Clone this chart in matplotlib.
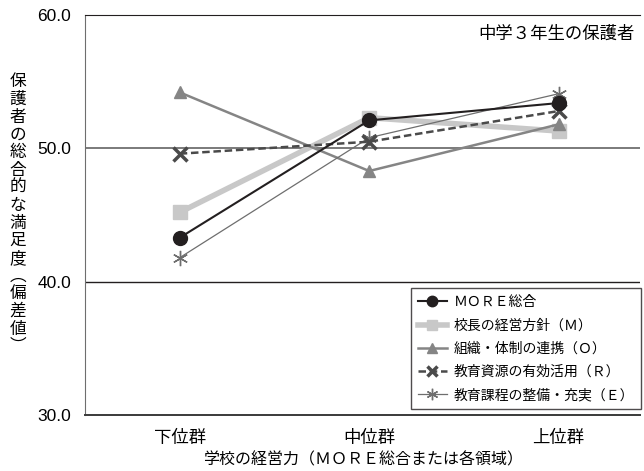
import matplotlib
matplotlib.use("Agg")
import matplotlib.pyplot as plt

plt.rcParams['font.family'] = ['Noto Sans CJK JP', 'DejaVu Sans']

groups = ['下位群', '中位群', '上位群']
more_total = [43.3, 52.1, 53.4]
principal_m = [45.2, 52.3, 51.3]
organization_o = [54.2, 48.3, 51.8]
resources_r = [49.6, 50.5, 52.8]
curriculum_e = [41.8, 50.8, 54.1]

y_ticks = [30, 40, 50, 60]

fig = plt.figure(figsize=(6.44, 4.71), dpi=100)
ax = fig.add_axes([0.132, 0.119, 0.862, 0.849])

x = range(len(groups))

ax.plot(x, principal_m, color='#c8c8c8', lw=4.0, marker='s', ms=10,
        label='校長の経営方針（Ｍ）', zorder=3)
ax.plot(x, organization_o, color='#858585', lw=1.8, marker='^', ms=9,
        label='組織・体制の連携（Ｏ）', zorder=4)
ax.plot(x, curriculum_e, color='#6e6e6e', lw=0.9, marker=(6, 2, 0), ms=11,
        mew=1.0, label='教育課程の整備・充実（Ｅ）', zorder=5)
ax.plot(x, resources_r, color='#4a4a4a', lw=1.8, ls=(0, (3, 1.5)), marker='x',
        ms=10, mew=2.5, label='教育資源の有効活用（Ｒ）', zorder=6)
ax.plot(x, more_total, color='#231f20', lw=1.5, marker='o', ms=10,
        label='ＭＯＲＥ総合', zorder=7)

ax.axhline(50, color='#7a7a7a', lw=1.4, zorder=1)
ax.axhline(40, color='#231f20', lw=1.0, zorder=1)

ax.set_xlim(-0.5, 2.43)
ax.set_ylim(30, 60)
ax.set_yticks(y_ticks)
ax.set_yticklabels([f'{v:.1f}' for v in y_ticks], family='Liberation Sans', fontsize=12.5)
ax.set_xticks(list(x))
ax.set_xticklabels(groups, fontsize=12.5)
ax.tick_params(axis='x', length=0, pad=10)
ax.tick_params(axis='y', length=0, pad=10)

ax.spines['right'].set_visible(False)
ax.spines['top'].set_color('#231f20')
ax.spines['left'].set_color('#6e6e6e')
ax.spines['bottom'].set_color('#3a3a3a')
ax.spines['bottom'].set_linewidth(1.4)

ax.set_xlabel('学校の経営力（ＭＯＲＥ総合または各領域）', fontsize=11.5, labelpad=3)

fig.text(0.028, 0.545, '\n'.join('保護者の総合的な満足度︵偏差値︶'), fontsize=12,
         ha='center', va='center', linespacing=1.05)

ax.text(0.99, 0.975, '中学３年生の保護者', transform=ax.transAxes,
        ha='right', va='top', fontsize=12.5)

handles, labels = ax.get_legend_handles_labels()
order = [4, 0, 1, 3, 2]
leg = ax.legend([handles[i] for i in order], [labels[i] for i in order],
                loc='lower right', bbox_to_anchor=(1.002, 0.015), borderaxespad=0,
                fontsize=10, frameon=True, fancybox=False, edgecolor='#231f20',
                handlelength=2.1, handletextpad=0.5, labelspacing=0.66,
                borderpad=0.5, markerscale=0.75)
leg.get_frame().set_linewidth(1.0)

fig.savefig('out.png', dpi=100)
